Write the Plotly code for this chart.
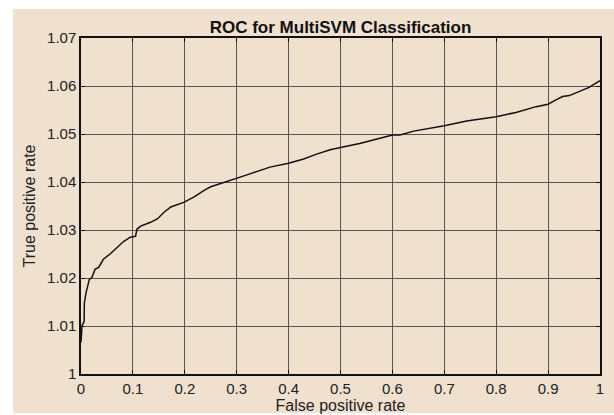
import plotly.graph_objects as go

# ROC curve
fpr = [0.0, 0.002, 0.006, 0.0065, 0.0097, 0.016, 0.021, 0.027, 0.034, 0.043, 0.056, 0.069,
       0.082, 0.095, 0.105, 0.108, 0.115, 0.134, 0.147, 0.16, 0.173, 0.199, 0.218, 0.238,
       0.25, 0.3256, 0.364, 0.4, 0.429, 0.454, 0.48, 0.5, 0.537, 0.576, 0.6, 0.6146, 0.641,
       0.7, 0.743, 0.8, 0.838, 0.877, 0.9, 0.915, 0.928, 0.941, 0.96, 0.979, 1.0]
tpr = [1.0066, 1.0101, 1.0109, 1.0148, 1.0169, 1.0197, 1.0201, 1.0218, 1.0222, 1.0239, 1.025,
       1.0264, 1.0276, 1.0285, 1.0287, 1.0302, 1.0308, 1.0316, 1.0323, 1.0337, 1.0348, 1.0358,
       1.0369, 1.0383, 1.039, 1.0417, 1.0431, 1.0439, 1.0448, 1.0458, 1.0467, 1.0472, 1.048,
       1.0491, 1.0498, 1.0498, 1.0506, 1.0517, 1.0527, 1.0536, 1.0545, 1.0557, 1.0562, 1.0571,
       1.0578, 1.058, 1.0588, 1.0597, 1.0611]

x_ticks = [0, 0.1, 0.2, 0.3, 0.4, 0.5, 0.6, 0.7, 0.8, 0.9, 1]
x_labels = ["0", "0.1", "0.2", "0.3", "0.4", "0.5", "0.6", "0.7", "0.8", "0.9", "1"]
y_ticks = [1, 1.01, 1.02, 1.03, 1.04, 1.05, 1.06, 1.07]
y_labels = ["1", "1.01", "1.02", "1.03", "1.04", "1.05", "1.06", "1.07"]

BEIGE = "#F0E0CE"
FONT = "Liberation Sans, Arial, sans-serif"

fig = go.Figure()
fig.add_trace(go.Scatter(x=fpr, y=tpr, mode="lines",
                         line=dict(color="#111111", width=1.5), showlegend=False))

axis_common = dict(showgrid=True, gridcolor="#5a5550", gridwidth=1,
                   showline=True, linecolor="#111111", linewidth=1.5, mirror="ticks",
                   ticks="inside", ticklen=4, tickcolor="#111111", zeroline=False,
                   automargin=False,
                   tickfont=dict(family=FONT, size=15, color="#222222"))

fig.update_xaxes(range=[0, 1], tickvals=x_ticks, ticktext=x_labels,
                 title=dict(text="False positive rate", standoff=4,
                            font=dict(family=FONT, size=16, color="#222222")),
                 **axis_common)
fig.update_yaxes(range=[1, 1.07], tickvals=y_ticks, ticktext=y_labels,
                 title=dict(text="True positive rate", standoff=7,
                            font=dict(family=FONT, size=16, color="#222222")),
                 **axis_common)

fig.add_shape(type="rect", xref="paper", yref="paper",
              x0=-0.131, x1=1.2, y0=-0.116, y1=1.0863,
              fillcolor=BEIGE, line=dict(width=0), layer="below")

fig.update_layout(
    width=614, height=415,
    margin=dict(l=81, r=14, t=38, b=41),
    paper_bgcolor="white", plot_bgcolor=BEIGE,
    title=dict(text="<b>ROC for MultiSVM Classification</b>", x=0.5546, xanchor="center",
               y=1 - 27 / 415, yanchor="middle",
               font=dict(family=FONT, size=17, color="#111111")),
)

fig.write_html("out.html", config={"displayModeBar": False},
               post_script="document.body.style.margin='0';")
